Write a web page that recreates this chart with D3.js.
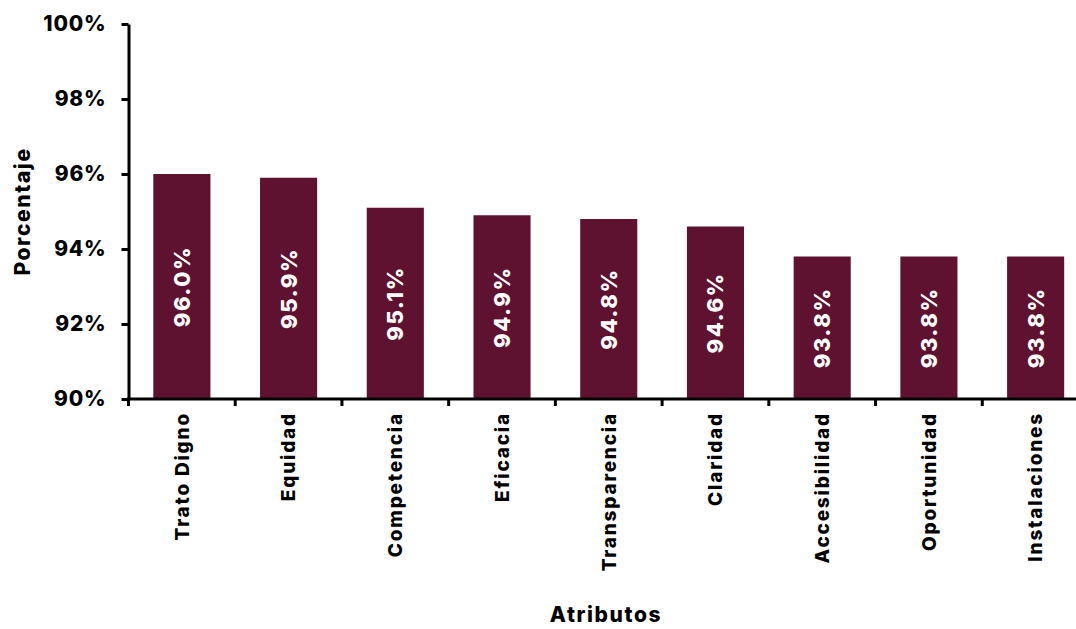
<!DOCTYPE html>
<html><head><meta charset="utf-8">
<script src="https://cdn.jsdelivr.net/npm/d3@7"></script>
<style>body{margin:0;background:#fff;} text{font-family:Inter,"Open Sans",sans-serif;font-weight:800;}</style>
</head><body><svg id="c" width="1076" height="629"></svg>
<script>
const categories = ["Trato Digno","Equidad","Competencia","Eficacia","Transparencia","Claridad","Accesibilidad","Oportunidad","Instalaciones"];
const values = [96.0,95.9,95.1,94.9,94.8,94.6,93.8,93.8,93.8];
const yTicks = [90,92,94,96,98,100];

(function(){
const svg = d3.select("#c");
const mLeft = 128.5, mRight = 1089, mTop = 24, mBottom = 399;
const x = d3.scaleBand().domain(categories).range([mLeft, mRight]).paddingInner(0.465).paddingOuter(0.2325);
const y = d3.scaleLinear().domain([90,100]).range([mBottom, mTop]);
const color = "#5f1230";

svg.selectAll("rect.bar").data(values).join("rect")
  .attr("x",(d,i)=>x(categories[i])).attr("y",d=>y(d))
  .attr("width",x.bandwidth()).attr("height",d=>y(90)-y(d))
  .attr("fill",color);

svg.selectAll("text.val").data(values).join("text")
  .attr("transform",(d,i)=>`translate(${x(categories[i])+x.bandwidth()/2},${(y(d)+y(90))/2}) rotate(-90)`)
  .attr("text-anchor","middle").attr("dy","0.36em")
  .attr("fill","#fff").attr("font-size",22).style("letter-spacing","1.6px").text(d=>d.toFixed(1)+"%");

const ya = svg.append("g").attr("transform",`translate(${mLeft},0)`)
  .call(d3.axisLeft(y).tickValues(yTicks).tickFormat(d=>d+"%").tickSize(7).tickSizeOuter(0));
ya.select(".domain").attr("stroke","#000").attr("stroke-width",3);
ya.selectAll(".tick line").attr("stroke","#000").attr("stroke-width",3);
ya.selectAll(".tick text").attr("font-size",21).attr("fill","#000").attr("x",-22)
  .style("font-family","Inter").style("font-weight",800).style("letter-spacing","0.8px");

const xa = svg.append("g").attr("transform",`translate(0,${mBottom})`);
xa.append("line").attr("x1",mLeft-1.5).attr("x2",mRight).attr("stroke","#000").attr("stroke-width",3);
const bounds = d3.range(0, categories.length+1).map(i=>mLeft + i*x.step());
xa.selectAll("line.t").data(bounds).join("line")
  .attr("x1",d=>d).attr("x2",d=>d).attr("y1",0).attr("y2",7).attr("stroke","#000").attr("stroke-width",3);
xa.selectAll("text.cat").data(categories).join("text")
  .attr("transform",d=>`translate(${x(d)+x.bandwidth()/2},13) rotate(-90)`)
  .attr("text-anchor","end").attr("dy","0.36em").attr("font-size",19).attr("fill","#000")
  .style("letter-spacing","1.8px").text(d=>d);

svg.append("text").attr("transform",`translate(22,${(mTop+mBottom)/2}) rotate(-90)`)
  .attr("text-anchor","middle").attr("dy","0.36em").attr("font-size",21).style("letter-spacing","1.6px").text("Porcentaje");
svg.append("text").attr("x",606).attr("y",614).attr("text-anchor","middle").attr("dy","0.36em")
  .attr("font-size",21).style("letter-spacing","1.6px").text("Atributos");
})();
</script></body></html>
